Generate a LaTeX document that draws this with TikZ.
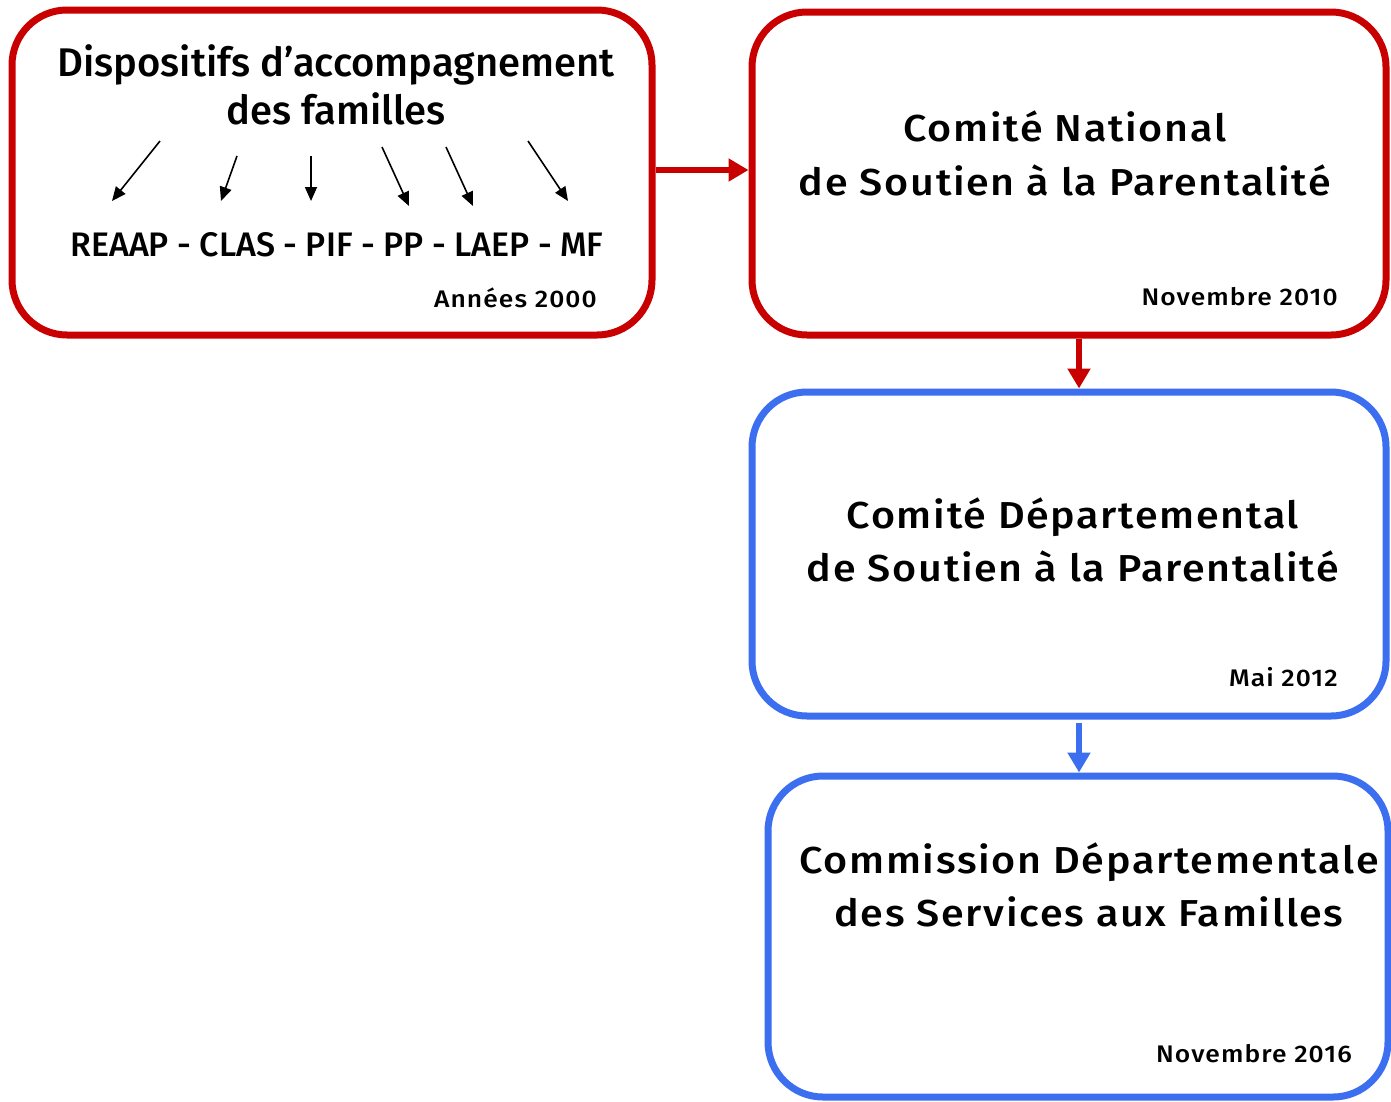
\documentclass[tikz,border=0pt]{standalone}
\usepackage{fontspec}
\setmainfont{Fira Sans}[UprightFont={* Medium}]
\newfontfamily\widefont{Fira Sans}[UprightFont={* Medium},FakeStretch=1.1,LetterSpace=4.5]
\usetikzlibrary{arrows.meta}
\definecolor{bred}{RGB}{200,0,0}
\definecolor{bblue}{RGB}{60,110,240}
\tikzset{
  box/.style={draw, line width=7pt, rounded corners=55pt, inner sep=0pt},
  redbox/.style={box, draw=bred},
  bluebox/.style={box, draw=bblue},
  bigtxt/.style={font=\widefont\fontsize{37.5}{45}\selectfont, anchor=base, inner sep=0pt},
  nbigtxt/.style={font=\fontsize{40}{48}\selectfont, anchor=base, inner sep=0pt},
  midtxt/.style={font=\fontsize{34}{40}\selectfont, anchor=base, inner sep=0pt},
  datetxt/.style={font=\widefont\fontsize{24}{28}\selectfont, anchor=base east, inner sep=0pt},
  bigarrow/.style={line width=6pt, -{Triangle[length=20pt,width=22pt]}},
  smallarrow/.style={line width=1.6pt, black, -{Triangle[length=14pt,width=12pt]}},
}
\begin{document}
\begin{tikzpicture}[x=1pt,y=-1pt]
\useasboundingbox (0,0) rectangle (1391,1101);
\fill[white] (0,0) rectangle (1391,1101);
% boxes
\node[redbox, minimum width=640pt, minimum height=325pt] (b1) at (332,172.5) {};
\node[redbox, minimum width=634pt, minimum height=323pt] (b2) at (1069,173.5) {};
\node[bluebox, minimum width=634pt, minimum height=324pt] (b3) at (1069,554) {};
\node[bluebox, minimum width=620pt, minimum height=321pt] (b4) at (1078,936.5) {};
% box 1 texts
\node[nbigtxt] (t1a) at (336,76) {Dispositifs d’accompagnement};
\node[nbigtxt] (t1b) at (336,124) {des familles};
\node[midtxt] (t1c) at (337,256) {REAAP - CLAS - PIF - PP - LAEP - MF};
\node[datetxt] (d1) at (597,307) {Années 2000};
% small arrows
\coordinate (s1) at (160,141); \coordinate (e1) at (112,201);
\coordinate (s2) at (237,156); \coordinate (e2) at (221,201);
\coordinate (s3) at (311,156); \coordinate (e3) at (311,201);
\coordinate (s4) at (382,147); \coordinate (e4) at (409,206);
\coordinate (s5) at (446,147); \coordinate (e5) at (473,206);
\coordinate (s6) at (528,141); \coordinate (e6) at (568,201);
\foreach \i in {1,...,6} {\draw[smallarrow] (s\i) -- (e\i);}
% box 2
\node[bigtxt] (t2a) at (1065,141) {Comité National};
\node[bigtxt] (t2b) at (1065,195) {de Soutien à la Parentalité};
\node[datetxt] (d2) at (1338,305) {Novembre 2010};
% box 3
\node[bigtxt] (t3a) at (1073,528) {Comité Départemental};
\node[bigtxt] (t3b) at (1073,581) {de Soutien à la Parentalité};
\node[datetxt] (d3) at (1338,686) {Mai 2012};
% box 4
\node[bigtxt] (t4a) at (1089,873) {Commission Départementale};
\node[bigtxt] (t4b) at (1089,926) {des Services aux Familles};
\node[datetxt] (d4) at (1352,1062) {Novembre 2016};
% connectors
\draw[bigarrow, bred] ([yshift=2.5pt]b1.east) -- ([yshift=3.5pt]b2.west);
\draw[bigarrow, bred] ([xshift=10pt]b2.south) -- ([xshift=10pt]b3.north);
\draw[bigarrow, bblue] ([xshift=10pt,yshift=-3pt]b3.south) -- ([xshift=1pt]b4.north);
\end{tikzpicture}
\end{document}
